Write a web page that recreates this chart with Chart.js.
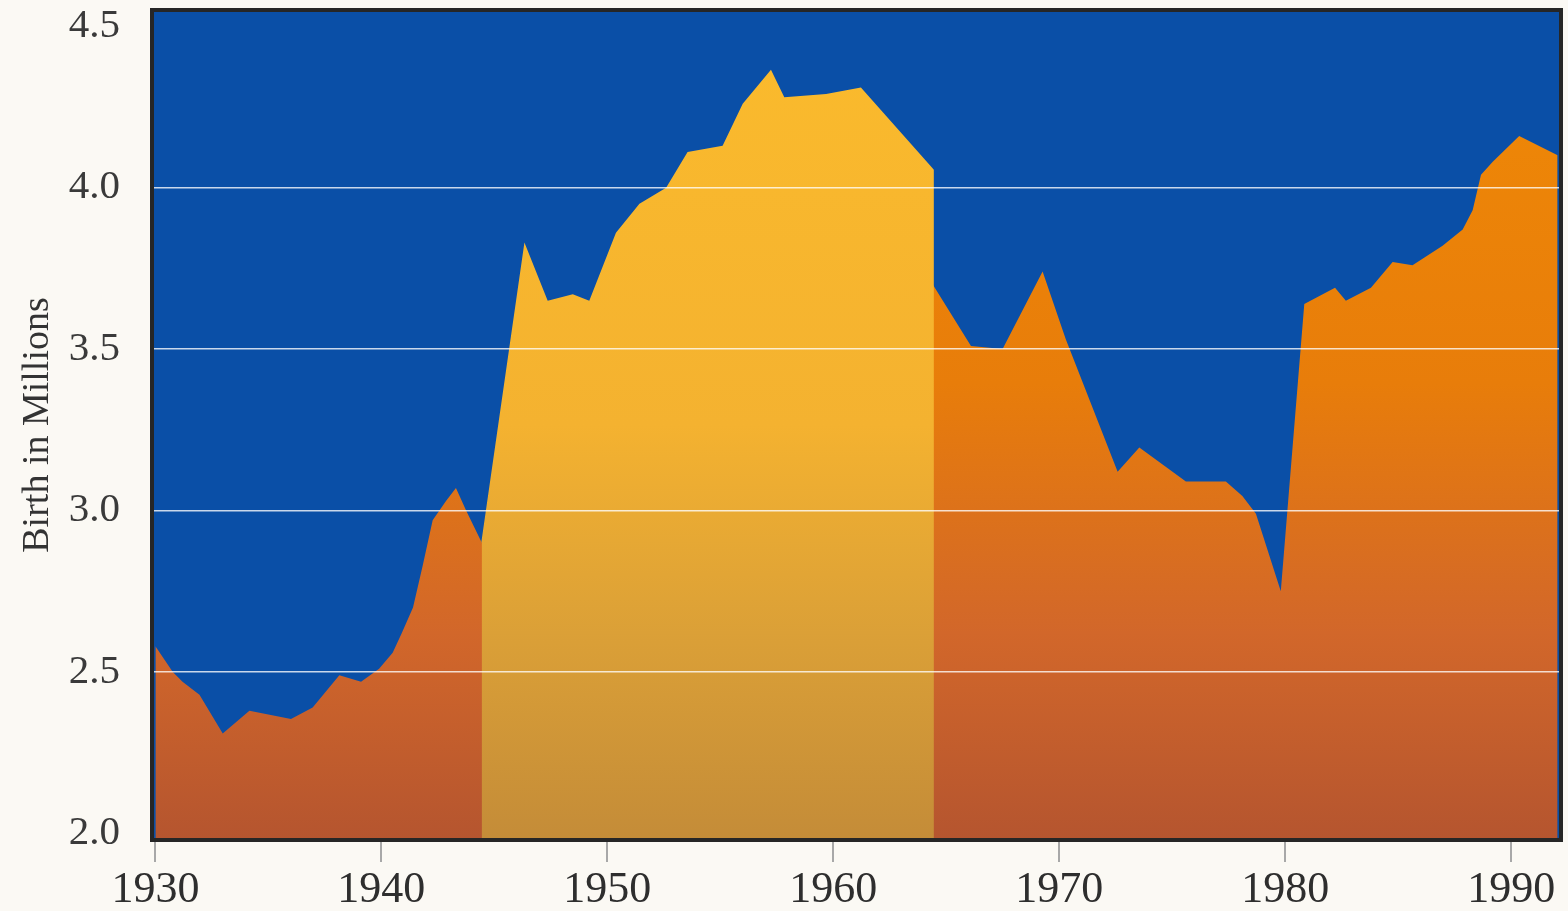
<!DOCTYPE html>
<html>
<head>
<meta charset="utf-8">
<script src="https://cdn.jsdelivr.net/npm/chart.js@4/dist/chart.umd.min.js"></script>
<style>
    html, body { margin: 0; padding: 0; background: #fbf9f4; }
    #wrap { width: 1568px; height: 911px; }
</style>
</head>
<body>
<div id="wrap"><canvas id="birthsChart" width="1568" height="911"></canvas></div>
<script>
// year (fractional where the vertex sits between years) and births in millions
const earlyYears  = [1930.0, 1930.77, 1931.2, 1931.95, 1932.98, 1934.16, 1936.0, 1936.96, 1938.14, 1939.1,
                     1939.9, 1940.5, 1940.9, 1941.4, 1941.83, 1942.27, 1942.86, 1943.3, 1943.75, 1944.45];
const earlyBirths = [2.58, 2.50, 2.47, 2.43, 2.31, 2.38, 2.355, 2.39, 2.49, 2.47,
                     2.51, 2.56, 2.62, 2.70, 2.83, 2.97, 3.03, 3.07, 3.00, 2.90];

const boomYears  = [1944.4, 1946.33, 1947.36, 1948.47, 1949.2, 1950.38, 1951.42, 1952.6, 1953.55, 1955.1,
                    1955.99, 1957.24, 1957.83, 1959.68, 1961.22, 1964.45];
const boomBirths = [2.89, 3.83, 3.65, 3.67, 3.65, 3.86, 3.95, 4.00, 4.11, 4.13,
                    4.26, 4.365, 4.28, 4.29, 4.31, 4.055];

const lateYears  = [1964.4, 1966.09, 1967.49, 1969.26, 1970.29, 1972.58, 1973.54, 1975.6, 1977.37, 1978.1,
                    1978.7, 1979.8, 1980.84, 1982.2, 1982.68, 1983.79, 1984.75, 1985.63, 1986.96, 1987.85,
                    1988.29, 1988.66, 1989.18, 1990.35, 1992.05];
const lateBirths = [3.70, 3.51, 3.50, 3.74, 3.53, 3.12, 3.195, 3.09, 3.09, 3.045,
                    2.99, 2.75, 3.64, 3.69, 3.65, 3.69, 3.77, 3.76, 3.82, 3.87,
                    3.93, 4.04, 4.08, 4.16, 4.10];

const xTicks = [1930, 1940, 1950, 1960, 1970, 1980, 1990];
const yTicks = [2.0, 2.5, 3.0, 3.5, 4.0, 4.5];

function toPoints(xs, ys) {
    return xs.map((x, i) => ({ x: x, y: ys[i] }));
}

function verticalGradient(stops) {
    return function(context) {
        const chart = context.chart;
        const area = chart.chartArea;
        if (!area) return stops[0][1];
        const g = chart.ctx.createLinearGradient(0, area.top, 0, area.bottom);
        stops.forEach(s => g.addColorStop(s[0], s[1]));
        return g;
    };
}

const orangeFill = verticalGradient([[0, '#f08a06'], [0.45, '#e87d0a'], [0.75, '#d2672a'], [1, '#b5552f']]);
const yellowFill = verticalGradient([[0, '#fbbb2c'], [0.5, '#f4b230'], [0.75, '#dba037'], [1, '#c48c38']]);

const plotBackground = {
    id: 'plotBackground',
    beforeDatasetsDraw(chart) {
        const { ctx, chartArea } = chart;
        ctx.save();
        ctx.fillStyle = '#0a4fa7';
        ctx.fillRect(chartArea.left, chartArea.top, chartArea.right - chartArea.left, chartArea.bottom - chartArea.top);
        ctx.restore();
    }
};

// dark frame round the plot, drawn last
const plotFrame = {
    id: 'plotFrame',
    afterDraw(chart) {
        const { ctx, chartArea } = chart;
        ctx.save();
        ctx.strokeStyle = '#262626';
        ctx.lineWidth = 4;
        ctx.strokeRect(chartArea.left, chartArea.top, chartArea.right - chartArea.left, chartArea.bottom - chartArea.top);
        ctx.restore();
    }
};

const areaStyle = {
    borderWidth: 0,
    pointRadius: 0,
    tension: 0,
    fill: 'start'
};

new Chart(document.getElementById('birthsChart'), {
    type: 'line',
    data: {
        datasets: [
            Object.assign({ label: 'Before 1945', data: toPoints(earlyYears, earlyBirths), backgroundColor: orangeFill }, areaStyle),
            Object.assign({ label: 'Baby boom', data: toPoints(boomYears, boomBirths), backgroundColor: yellowFill }, areaStyle),
            Object.assign({ label: 'After 1964', data: toPoints(lateYears, lateBirths), backgroundColor: orangeFill }, areaStyle)
        ]
    },
    options: {
        responsive: false,
        animation: false,
        layout: { padding: { top: 10, right: 7, left: 0, bottom: 0 } },
        plugins: {
            legend: { display: false },
            tooltip: { enabled: false }
        },
        scales: {
            x: {
                type: 'linear',
                min: 1929.85,
                max: 1992.2,
                afterBuildTicks: scale => { scale.ticks = xTicks.map(v => ({ value: v })); },
                afterFit: scale => {
                    scale.height = 71;
                    scale.paddingLeft = 0;
                    scale.paddingRight = 0;
                },
                grid: {
                    drawOnChartArea: false,
                    drawTicks: true,
                    tickLength: 22,
                    color: '#a8a8a8',
                    lineWidth: 2
                },
                border: { display: false },
                ticks: {
                    padding: 6,
                    color: '#2e2e2e',
                    maxRotation: 0,
                    font: { family: 'Liberation Serif', size: 44, lineHeight: 1 },
                    callback: v => String(v)
                }
            },
            y: {
                min: 1.98,
                max: 4.55,
                afterBuildTicks: scale => { scale.ticks = yTicks.map(v => ({ value: v })); },
                afterFit: scale => {
                    scale.width = 152;
                    scale.paddingTop = 0;
                    scale.paddingBottom = 0;
                },
                grid: {
                    z: 1,
                    drawTicks: false,
                    lineWidth: 1.5,
                    color: ctx => (ctx.tick && (ctx.tick.value === 2.0 || ctx.tick.value === 4.5)) ? 'rgba(0,0,0,0)' : 'rgba(255,255,255,0.78)'
                },
                border: { display: false },
                ticks: {
                    padding: 32,
                    color: '#3a3a3a',
                    font: { family: 'Liberation Serif', size: 41 },
                    callback: v => Number(v).toFixed(1)
                },
                title: {
                    display: true,
                    text: 'Birth in Millions',
                    color: '#333333',
                    font: { family: 'Liberation Serif', size: 38, lineHeight: 1.2 },
                    padding: { top: 15, bottom: 0 }
                }
            }
        }
    },
    plugins: [plotBackground, plotFrame]
});
</script>
</body>
</html>
